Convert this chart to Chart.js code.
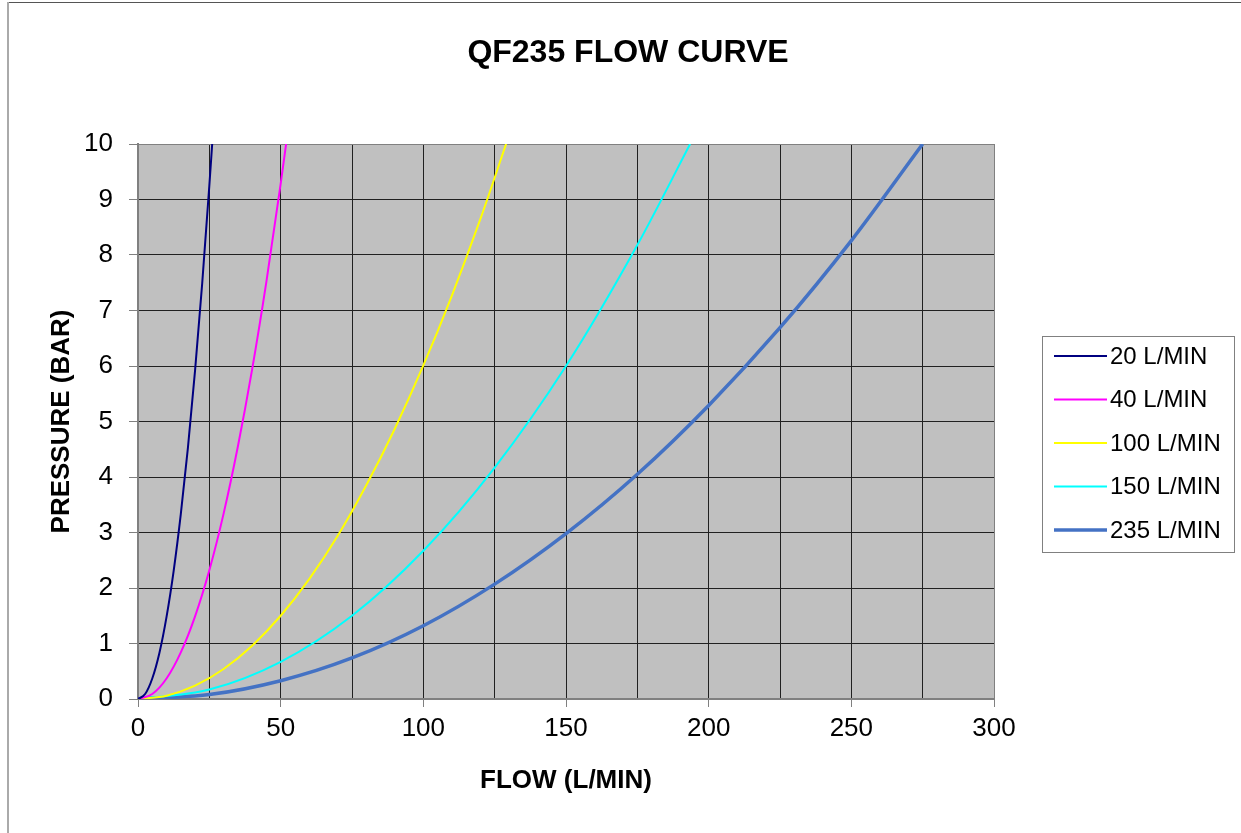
<!DOCTYPE html>
<html>
<head>
<meta charset="utf-8">
<script src="https://cdn.jsdelivr.net/npm/chart.js@4/dist/chart.umd.min.js"></script>
<style>
  html, body { margin: 0; padding: 0; background: #fff; }
  #wrap { width: 1241px; height: 833px; }
</style>
</head>
<body>
<div id="wrap"><canvas id="flowChart"></canvas></div>
<script>
// flow (L/MIN) and pressure (BAR)
const flow20 = [0, 2.5, 5, 7.5, 10, 12.5, 15, 17.5, 20, 22.5, 25, 26]
const pres20 = [0, 0.09, 0.37, 0.83, 1.48, 2.31, 3.33, 4.53, 5.92, 7.49, 9.25, 10]

const flow40 = [0, 5, 10, 15, 20, 25, 30, 35, 40, 45, 50, 51.9]
const pres40 = [0, 0.09, 0.37, 0.84, 1.49, 2.32, 3.34, 4.55, 5.94, 7.52, 9.28, 10]

const flow100 = [0, 10, 20, 30, 40, 50, 60, 70, 80, 90, 100, 110, 120, 129]
const pres100 = [0, 0.06, 0.24, 0.54, 0.96, 1.5, 2.16, 2.94, 3.85, 4.87, 6.01, 7.27, 8.65, 10]

const flow150 = [0, 25, 50, 75, 100, 125, 150, 175, 193.5]
const pres150 = [0, 0.17, 0.67, 1.5, 2.67, 4.17, 6.0, 8.18, 10]

const flow235 = [0, 25, 50, 75, 100, 125, 150, 175, 200, 225, 250, 275]
const pres235 = [0, 0.08, 0.33, 0.74, 1.32, 2.07, 2.98, 4.05, 5.29, 6.69, 8.26, 10]

const seriesLabels = ["20 L/MIN", "40 L/MIN", "100 L/MIN", "150 L/MIN", "235 L/MIN"]
const seriesColors = ["#000080", "#FF00FF", "#FFFF00", "#00FFFF", "#4472C4"]
const seriesWidths = [2, 2, 2, 2, 3.5]

const flows = [flow20, flow40, flow100, flow150, flow235]
const pressures = [pres20, pres40, pres100, pres150, pres235]

const FONT = "'Liberation Sans', Arial, sans-serif"

const datasets = seriesLabels.map((label, i) => ({
  label: label,
  data: flows[i].map((q, j) => ({ x: q, y: pressures[i][j] })),
  borderColor: seriesColors[i],
  backgroundColor: seriesColors[i],
  borderWidth: seriesWidths[i],
  showLine: true,
  pointRadius: 0,
  cubicInterpolationMode: "monotone",
}))

// outer frame, title, plot background and the boxed legend
const decor = {
  id: "decor",
  beforeDraw(chart) {
    const { ctx, chartArea: a } = chart
    ctx.save()
    ctx.fillStyle = "#fff"
    ctx.fillRect(0, 0, chart.width, chart.height)
    // top and left edges of the chart frame
    ctx.fillStyle = "#555"
    ctx.fillRect(8, 2, 1233, 1)
    ctx.fillStyle = "#aaa"
    ctx.fillRect(7, 2, 2, 831)
    ctx.fillStyle = "#C0C0C0"
    ctx.fillRect(a.left, a.top, a.right - a.left, a.bottom - a.top)
    ctx.fillStyle = "#000"
    ctx.font = "bold 32px " + FONT
    ctx.textAlign = "center"
    ctx.textBaseline = "middle"
    ctx.fillText("QF235 FLOW CURVE", 628, 53)
    ctx.restore()
  },
  afterDraw(chart) {
    const { ctx } = chart
    ctx.save()
    ctx.strokeStyle = "#808080"
    ctx.lineWidth = 1
    ctx.strokeRect(1042.5, 336.5, 192, 216)
    ctx.font = "24px " + FONT
    ctx.textAlign = "left"
    ctx.textBaseline = "middle"
    chart.data.datasets.forEach((ds, i) => {
      const y = 356 + i * 43.5
      ctx.strokeStyle = ds.borderColor
      ctx.lineWidth = ds.borderWidth
      ctx.beginPath()
      ctx.moveTo(1054, y)
      ctx.lineTo(1107, y)
      ctx.stroke()
      ctx.fillStyle = "#000"
      ctx.fillText(ds.label, 1110, y + 1)
    })
    ctx.restore()
  },
}

const edgeColor = "#808080"
const gridColor = "#202020"

new Chart(document.getElementById("flowChart"), {
  type: "scatter",
  data: { datasets: datasets },
  plugins: [decor],
  options: {
    responsive: true,
    maintainAspectRatio: false,
    animation: false,
    layout: { padding: { left: 0, top: 144, right: 247, bottom: 0 } },
    plugins: {
      legend: { display: false },
      title: { display: false },
      tooltip: { enabled: false },
    },
    scales: {
      x: {
        type: "linear",
        min: 0,
        max: 300,
        afterFit: (s) => { s.height = 134 },
        border: { display: true, color: edgeColor, width: 2 },
        grid: {
          color: (c) => (c.tick && (c.tick.value === 0 || c.tick.value === 300) ? edgeColor : gridColor),
          lineWidth: 1,
          tickLength: 8,
          tickColor: (c) => (c.tick && c.tick.value % 50 === 0 ? edgeColor : "rgba(0,0,0,0)"),
        },
        ticks: {
          stepSize: 25,
          autoSkip: false,
          maxRotation: 0,
          padding: 6,
          color: "#000",
          font: { family: FONT, size: 26 },
          callback: (v) => (v % 50 === 0 ? v : ""),
        },
        title: {
          display: true,
          text: "FLOW (L/MIN)",
          color: "#000",
          font: { family: FONT, size: 26, weight: "bold" },
          padding: { top: 0, bottom: 37 },
        },
      },
      y: {
        type: "linear",
        min: 0,
        max: 10,
        afterFit: (s) => { s.width = 138 },
        border: { display: true, color: edgeColor, width: 2 },
        grid: {
          color: (c) => (c.tick && (c.tick.value === 0 || c.tick.value === 10) ? edgeColor : gridColor),
          lineWidth: 1,
          tickLength: 9,
          tickColor: edgeColor,
        },
        ticks: {
          stepSize: 1,
          autoSkip: false,
          padding: 16,
          color: "#000",
          font: { family: FONT, size: 26 },
        },
        title: {
          display: true,
          text: "PRESSURE (BAR)",
          color: "#000",
          font: { family: FONT, size: 26, weight: "bold" },
          padding: { top: 46, bottom: 0 },
        },
      },
    },
  },
})
</script>
</body>
</html>
